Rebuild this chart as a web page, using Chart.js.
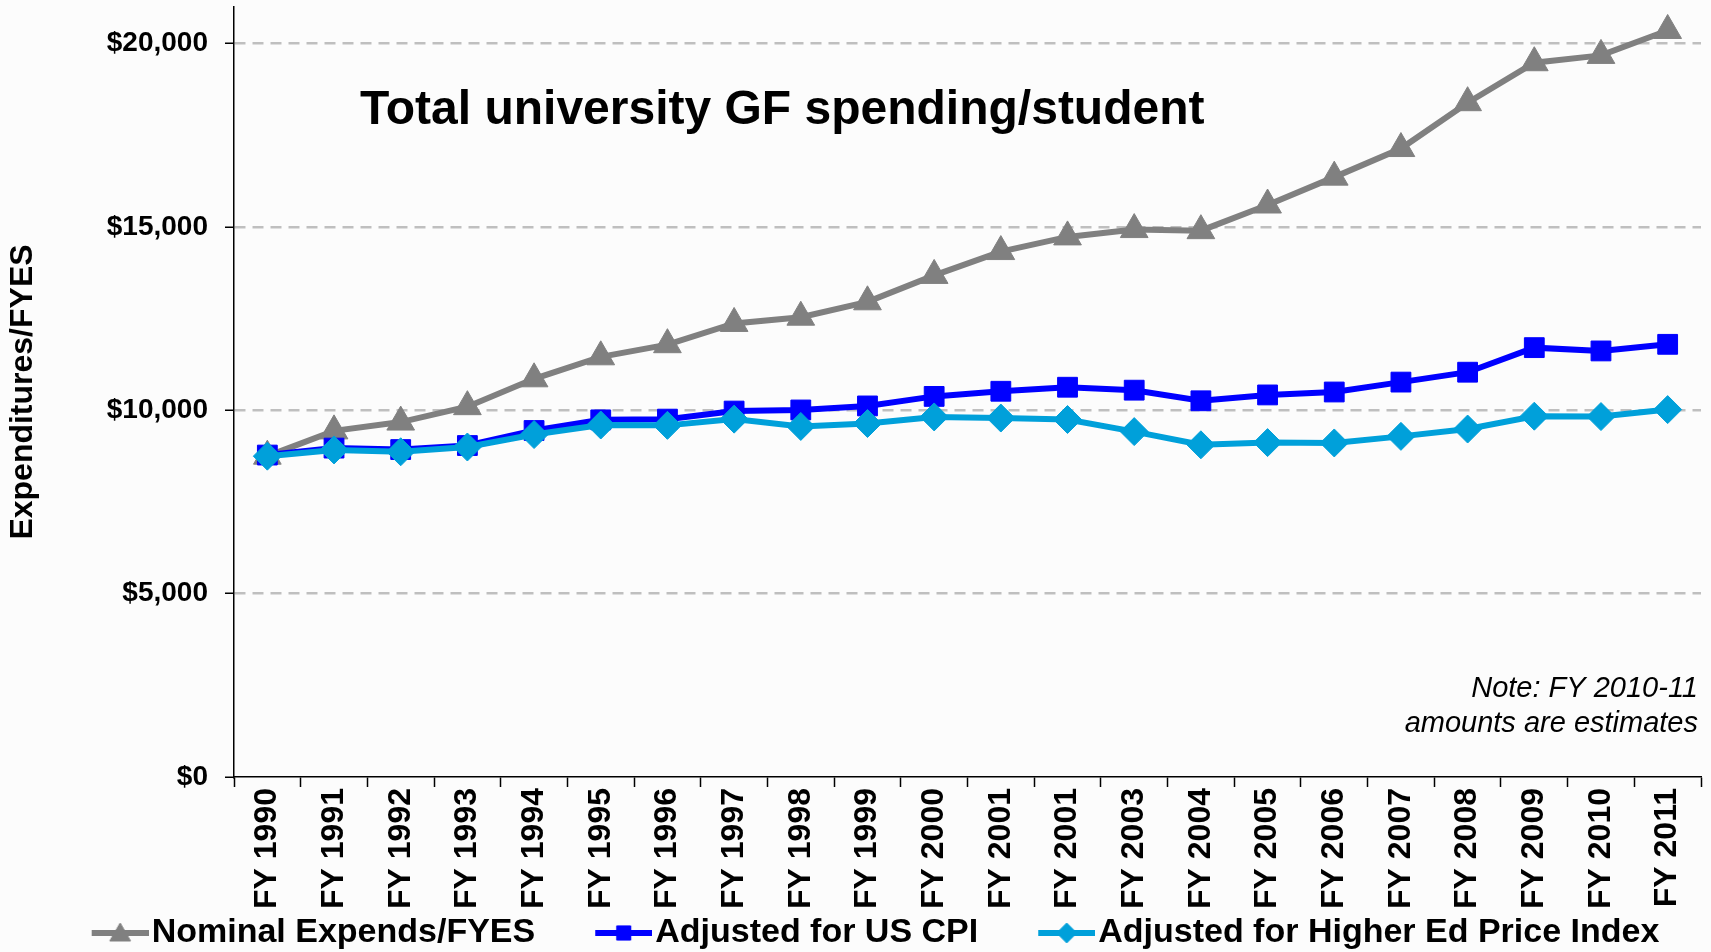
<!DOCTYPE html>
<html><head><meta charset="utf-8">
<script src="https://cdn.jsdelivr.net/npm/chart.js@4/dist/chart.umd.min.js"></script>
<style>
html,body{margin:0;padding:0;background:#fcfcfc;overflow:hidden}
#wrap{position:relative;width:1711px;height:952px}
</style>
</head><body><div id="wrap"><canvas id="c" width="1711" height="952"></canvas></div>
<script>
const categories = ['FY 1990','FY 1991','FY 1992','FY 1993','FY 1994','FY 1995','FY 1996','FY 1997','FY 1998','FY 1999','FY 2000','FY 2001','FY 2001','FY 2003','FY 2004','FY 2005','FY 2006','FY 2007','FY 2008','FY 2009','FY 2010','FY 2011'];
const nominal = [8750, 9440, 9680, 10100, 10860, 11460, 11790, 12370, 12540, 12960, 13680, 14330, 14730, 14930, 14900, 15600, 16360, 17140, 18390, 19480, 19680, 20360];
const cpi     = [8780, 8970, 8930, 9040, 9450, 9740, 9760, 9980, 10010, 10120, 10380, 10520, 10630, 10550, 10260, 10420, 10500, 10770, 11040, 11710, 11620, 11800];
const hepi    = [8750, 8920, 8870, 9000, 9340, 9600, 9590, 9760, 9560, 9640, 9820, 9790, 9750, 9420, 9060, 9120, 9110, 9290, 9490, 9840, 9830, 10020];
const seriesNames = ['Nominal Expends/FYES', 'Adjusted for US CPI', 'Adjusted for Higher Ed Price Index'];
const yTickValues = [0, 5000, 10000, 15000, 20000];
const yAxisTitle = 'Expenditures/FYES';
const chartTitle = 'Total university GF spending/student';
const noteLines = ['Note: FY 2010-11', 'amounts are estimates'];

const FONT = '"Liberation Sans", Arial, Helvetica, sans-serif';
Chart.defaults.font.family = FONT;
Chart.defaults.color = '#000';

const colors = ['#808080', '#0000FF', '#00A0DA'];
const styles = ['triangle', 'rect', 'rectRot'];
const radii = [16, 14, 14];

function legendSwatch(color, style) {
  const c = document.createElement('canvas');
  c.width = 121; c.height = 34;
  const g = c.getContext('2d');
  g.strokeStyle = color; g.lineWidth = 6;
  g.beginPath(); g.moveTo(64, 17); g.lineTo(121, 17); g.stroke();
  g.fillStyle = color; g.strokeStyle = color; g.lineWidth = 1;
  const r = style === 'triangle' ? 12 : 10;
  Chart.helpers.drawPoint(g, {pointStyle: style, radius: r, borderWidth: 1}, 92.5, style === 'triangle' ? 19 : 17);
  return c;
}

const textPlugin = {
  id: 'textPlugin',
  afterDraw(chart) {
    const ctx = chart.ctx;
    ctx.save();
    ctx.fillStyle = '#000';
    ctx.textBaseline = 'alphabetic';
    ctx.font = 'bold 48px ' + FONT;
    ctx.textAlign = 'left';
    ctx.fillText(chartTitle, 360, 124);
    ctx.font = 'italic 29px ' + FONT;
    ctx.textAlign = 'right';
    ctx.fillText(noteLines[0], 1698, 697);
    ctx.fillText(noteLines[1], 1698, 732);
    ctx.restore();
  }
};
const layoutTweak = {
  id: 'layoutTweak',
  afterLayout(chart) {
    const l = chart.legend;
    if (l) { l.top += 8; l.bottom += 8; }
    const x = chart.scales.x;
    if (x) { x.bottom = x.top + 150; }
  }
};

const seriesData = [nominal, cpi, hepi];
const datasets = seriesData.map((d, i) => ({
  label: seriesNames[i],
  data: d,
  borderColor: colors[i],
  backgroundColor: colors[i],
  pointBackgroundColor: colors[i],
  pointBorderColor: colors[i],
  pointStyle: styles[i],
  pointRadius: radii[i],
  pointBorderWidth: 1,
  borderWidth: 6,
  tension: 0,
  fill: false,
  order: 3 - i
}));

new Chart(document.getElementById('c'), {
  type: 'line',
  data: { labels: categories, datasets },
  plugins: [textPlugin, layoutTweak],
  options: {
    responsive: false,
    animation: false,
    devicePixelRatio: 1,
    layout: { autoPadding: false, padding: { top: 7, right: 10, left: 0, bottom: 0 } },
    plugins: {
      tooltip: { enabled: false },
      title: { display: false },
      legend: {
        position: 'bottom',
        labels: {
          usePointStyle: true,
          pointStyleWidth: 93,
          padding: 10,
          color: '#000',
          font: { size: 34, weight: 'bold' },
          sort: (a, b) => a.datasetIndex - b.datasetIndex,
          generateLabels(chart) {
            const items = Chart.defaults.plugins.legend.labels.generateLabels(chart);
            items.forEach((it) => { it.pointStyle = legendSwatch(colors[it.datasetIndex], styles[it.datasetIndex]); it.fontColor = '#000'; });
            return items;
          }
        }
      }
    },
    scales: {
      x: {
        offset: true,
        grid: { offset: true, drawOnChartArea: false, drawTicks: true, tickLength: 10, tickColor: '#000', tickWidth: 1.5 },
        border: { display: true, color: '#000', width: 1.5 },
        ticks: { autoSkip: false, maxRotation: 90, minRotation: 90, padding: 1, color: '#000', font: { size: 32, weight: 'bold' } },
        afterFit(s) { s.height = 121; s.paddingLeft = 0; s.paddingRight = 0; }
      },
      y: {
        min: 0, max: 21000,
        grid: {
          color: (ctx) => (ctx.tick && ctx.tick.value === 0) ? 'rgba(0,0,0,0)' : '#BFBFBF',
          lineWidth: 2.5, drawTicks: true, tickLength: 9, tickColor: '#000', tickWidth: 1.5
        },
        border: { display: true, color: '#000', width: 1.5, dash: [11, 7] },
        ticks: {
          stepSize: 5000, padding: 17, color: '#000', font: { size: 28, weight: 'bold' },
          callback: (v) => '$' + Number(v).toLocaleString('en-US')
        },
        afterBuildTicks(s) { s.ticks = yTickValues.map(v => ({ value: v })); },
        title: { display: true, text: yAxisTitle, color: '#000', font: { size: 32, weight: 'bold' }, padding: { top: 4, bottom: 4 } },
        afterFit(s) { s.width = 234; s.paddingTop = 0; s.paddingBottom = 0; }
      }
    }
  }
});
</script>
</body></html>
